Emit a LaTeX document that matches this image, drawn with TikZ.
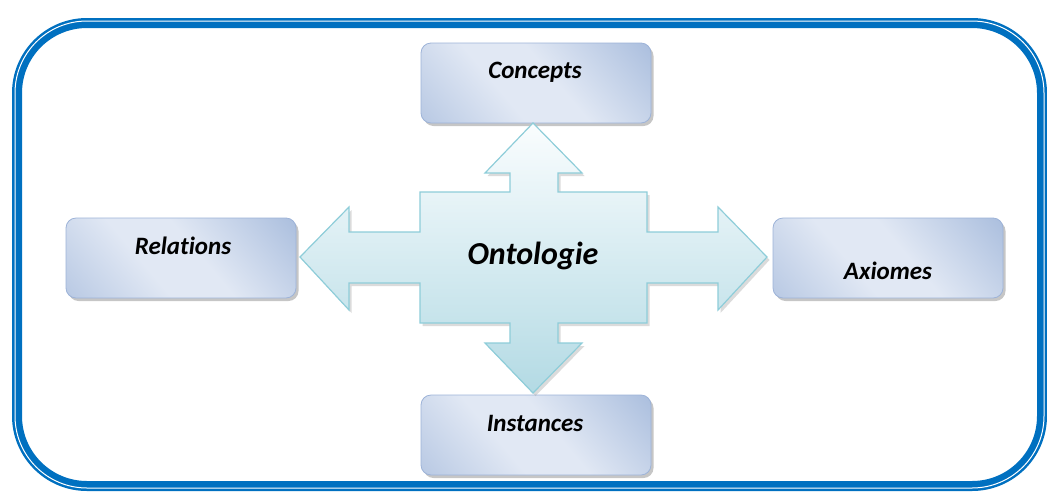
\documentclass[tikz,border=0pt]{standalone}
\usepackage{fontspec}
\setmainfont{Carlito}[Ligatures=NoCommon]
\usetikzlibrary{shadows}

\definecolor{frameblue}{HTML}{0070C0}
\definecolor{boxdark}{HTML}{90AAD3}
\definecolor{boxlight}{HTML}{E1E8F4}
\definecolor{boxline}{HTML}{9DB3D8}
\definecolor{crosstop}{HTML}{FAFDFE}
\definecolor{crossbot}{HTML}{B3DAE4}
\definecolor{crossline}{HTML}{8ECDD9}

\pgfdeclarehorizontalshading{boxshine}{100bp}{color(0bp)=(boxdark!80!boxlight); color(40bp)=(boxlight); color(55bp)=(boxlight); color(100bp)=(boxdark)}

\tikzset{
  termbox/.style={rectangle, rounded corners=10pt, minimum width=230pt, minimum height=80pt,
    draw=boxline, line width=0.8pt, shading=boxshine, shading angle=40,
    drop shadow={shadow xshift=2.5pt, shadow yshift=-3pt, opacity=0.45}},
  termlbl/.style={font=\fontsize{25}{28}\selectfont\bfseries\itshape, inner sep=0pt},
}

\begin{document}
\begin{tikzpicture}[x=1pt,y=-1pt]
\useasboundingbox (0,0) rectangle (1047,491);

% outer frame
\draw[frameblue, line width=10pt, rounded corners=70pt] (17,23) rectangle (1042,486);
\draw[white, line width=1pt, rounded corners=72pt] (15,21) rectangle (1044,488);

% four boxes
\node[termbox] (concepts) at (536,83) {};
\node[termbox] (relations) at (181,258) {};
\node[termbox] (axiomes) at (888,258) {};
\node[termbox] (instances) at (536,435) {};

\node[termlbl] (concepts-t) at (535,72) {Concepts};
\node[termlbl] (relations-t) at (183,246) {Relations};
\node[termlbl] (axiomes-t) at (888,271) {Axiomes};
\node[termlbl] (instances-t) at (535,423) {Instances};

% central cross arrow
\path[fill=black!35, opacity=0.4, shift={(2.5,3)}]
  (533,123) -- (582,173) -- (558,173) -- (558,192) -- (647,192) -- (647,232) -- (718,232) -- (718,207)
  -- (767,257) -- (718,310) -- (718,283) -- (647,283) -- (647,323) -- (558,323) -- (558,343) -- (582,343)
  -- (533,393) -- (485,343) -- (510,343) -- (510,323) -- (420,323) -- (420,283) -- (349,283) -- (349,310)
  -- (300,257) -- (349,207) -- (349,232) -- (420,232) -- (420,192) -- (510,192) -- (510,173) -- (485,173) -- cycle;
\draw[crossline, line width=1.2pt, top color=crosstop, bottom color=crossbot]
  (533,123) -- (582,173) -- (558,173) -- (558,192) -- (647,192) -- (647,232) -- (718,232) -- (718,207)
  -- (767,257) -- (718,310) -- (718,283) -- (647,283) -- (647,323) -- (558,323) -- (558,343) -- (582,343)
  -- (533,393) -- (485,343) -- (510,343) -- (510,323) -- (420,323) -- (420,283) -- (349,283) -- (349,310)
  -- (300,257) -- (349,207) -- (349,232) -- (420,232) -- (420,192) -- (510,192) -- (510,173) -- (485,173) -- cycle;
\node[termlbl, font=\fontsize{32}{36}\selectfont\bfseries\itshape] (onto) at (533,256) {Ontologie};
\end{tikzpicture}
\end{document}
